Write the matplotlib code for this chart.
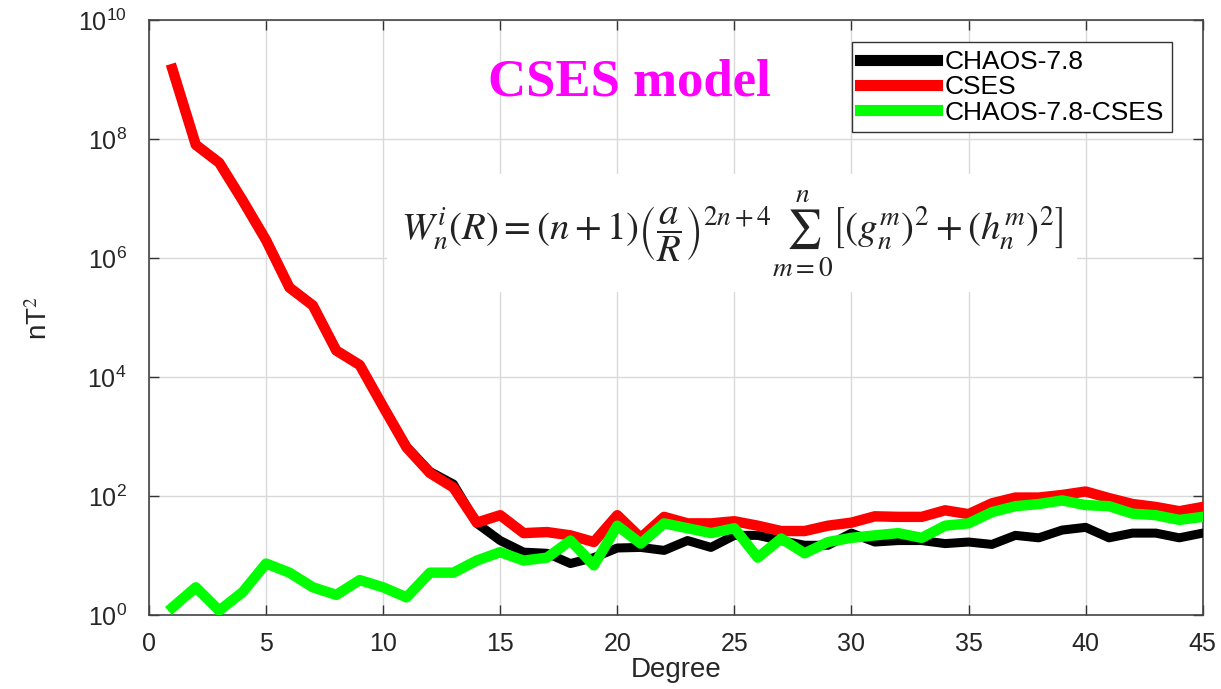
import matplotlib
matplotlib.use("Agg")
import matplotlib.pyplot as plt
import numpy as np

plt.rcParams["font.family"] = ["Liberation Sans", "DejaVu Sans"]
plt.rcParams["mathtext.fontset"] = "stix"

degree = np.arange(1, 46)

# CHAOS-7.8 spectrum (nT^2)
chaos = [1.5e9, 8e7, 4e7, 9.3e6, 2e6, 3.2e5, 1.6e5, 2.8e4, 1.6e4, 3.2e3,
         680, 260, 160, 35, 18, 11.5, 11, 7.4, 9.3, 13.5,
         13.8, 12.3, 18, 13.8, 22, 22, 18, 15, 15, 24,
         17, 18, 18, 16, 17, 15.5, 22, 20, 27, 30,
         20, 24, 24, 20, 24]

# CSES spectrum
cses = [1.5e9, 8e7, 4e7, 9.3e6, 2e6, 3.2e5, 1.6e5, 2.8e4, 1.6e4, 3.2e3,
        660, 245, 140, 36, 48, 24, 25, 22, 17, 48,
        20, 45, 35, 35, 38, 32, 26, 26, 32, 36,
        46, 45, 45, 58, 50, 76, 95, 95, 105, 120,
        93, 74, 66, 56, 66]

# difference CHAOS-7.8 - CSES
diff = [1.35, 2.95, 1.2, 2.45, 7.4, 5.2, 2.95, 2.2, 3.9, 2.95,
        2.0, 5.2, 5.2, 8.3, 11.5, 8.3, 9.3, 18, 6.9, 32,
        16, 35, 29, 24, 29, 9.3, 19.5, 11, 17, 20,
        22, 24, 20, 32, 35, 54, 68, 74, 85, 71,
        68, 51, 48, 40, 45]

fig = plt.figure(figsize=(12.21, 6.89), dpi=100)
ax = fig.add_axes([0.122, 0.107, 0.863, 0.864])

ax.semilogy(degree, chaos, color="black", lw=6.5, label="CHAOS-7.8", zorder=3)
ax.semilogy(degree, cses, color="#ff0000", lw=7.5, label="CSES", zorder=4)
ax.semilogy(degree, diff, color="#00ff00", lw=7.5, label="CHAOS-7.8-CSES", zorder=5)

ax.set_xlim(0, 45)
ax.set_ylim(1, 1e10)
ax.set_xticks(range(0, 46, 5))
ax.set_yticks([10.0 ** k for k in range(0, 11, 2)])
ax.yaxis.set_minor_locator(matplotlib.ticker.NullLocator())
ax.tick_params(direction="in", top=True, right=True, labelsize=18, length=7,
               width=1, colors="#333333", labelcolor="#262626")
ax.tick_params(axis="x", pad=12)
ax.tick_params(axis="y", pad=16)
ax.grid(True, color="#d9d9d9", lw=1)
for s in ax.spines.values():
    s.set_color("#444444")
    s.set_linewidth(1.2)

ax.set_xlabel("Degree", fontsize=20, labelpad=1, color="#262626")
ax.set_ylabel("nT$^2$", fontsize=20, labelpad=18, color="#262626")

ax.text(0.456, 0.895, "CSES model", transform=ax.transAxes, ha="center",
        va="center", color="#ff00ff", fontsize=38, fontweight="bold",
        family="Liberation Serif", zorder=6)

formula = (r"$W_n^i(R) = (n+1)\left(\dfrac{a}{R}\right)^{2n+4}"
           r"\sum_{m=0}^{n}\left[\left(g_n^m\right)^2+\left(h_n^m\right)^2\right]$")
ax.text(0.553, 0.642, formula, transform=ax.transAxes, ha="center", va="center",
        fontsize=28, color="#222222", zorder=2,
        bbox=dict(facecolor="white", edgecolor="none", pad=10))

leg = ax.legend(loc="upper right", bbox_to_anchor=(0.971, 0.963), borderaxespad=0,
                fontsize=19, handlelength=2.9, handletextpad=0.3, labelspacing=0.05,
                borderpad=0.3, fancybox=False, framealpha=1)
leg.get_frame().set_edgecolor("#333333")
leg.get_frame().set_linewidth(1.0)
for h in leg.get_lines():
    h.set_linewidth(8)

fig.savefig("out.png", dpi=100)
